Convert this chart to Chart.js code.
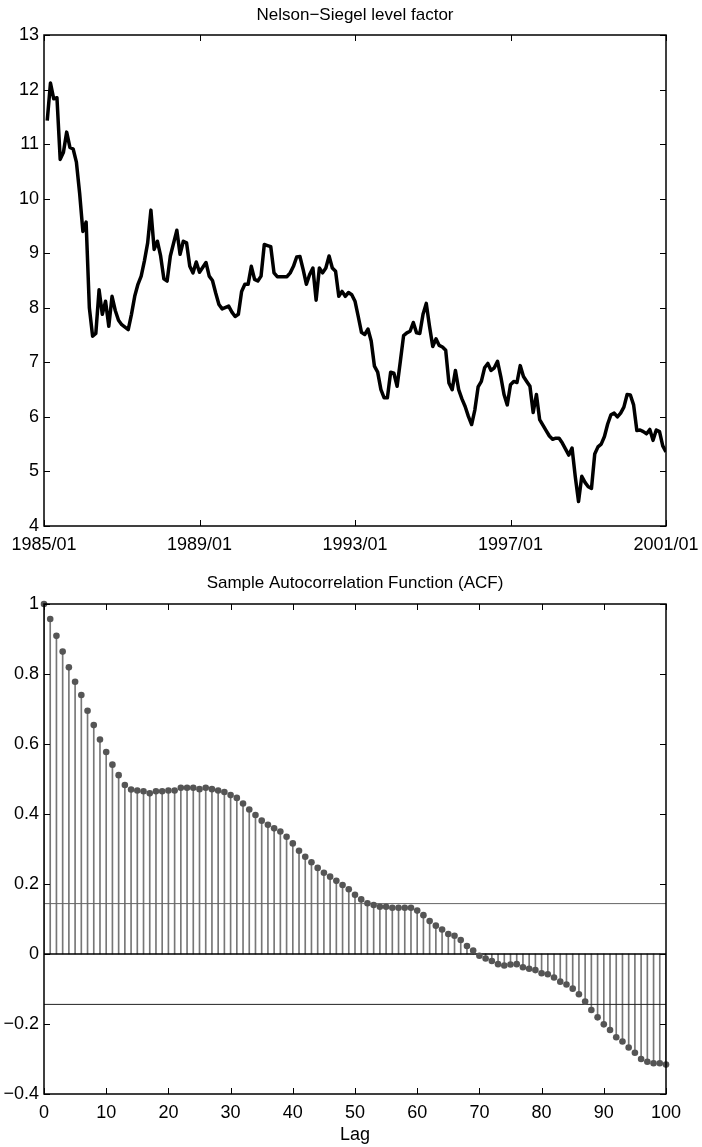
<!DOCTYPE html>
<html>
<head>
<meta charset="utf-8">
<script src="https://cdn.jsdelivr.net/npm/chart.js@4.4.1/dist/chart.umd.min.js"></script>
<style>
  html, body { margin: 0; padding: 0; background: #fff; }
  #wrap { position: relative; width: 702px; height: 1147px; }
  #lvl { position: absolute; left: 0; top: 0; }
  #acf { position: absolute; left: 0; top: 572px; }
</style>
</head>
<body>
<div id="wrap">
  <canvas id="lvl" width="702" height="572"></canvas>
  <canvas id="acf" width="702" height="575"></canvas>
</div>
<script>
// level factor, months counted from 1985/01
const months = [1,2,3,4,5,6,7,8,9,10,11,12,13,14,15,16,17,18,19,20,21,22,23,24,26,27,28,29,30,31,32,33,34,35,36,37,38,39,41,42,43,44,45,46,47,48,50,51,52,53,54,55,57,58,59,60,61,62,63,64,65,66,67,68,69,70,71,72,73,75,76,77,78,79,80,81,82,83,84,85,86,87,88,89,90,91,92,93,94,95,96,97,98,99,100,101,102,103,104,105,106,107,108,109,110,111,112,113,114,115,116,117,118,119,120,121,122,123,124,125,126,127,128,129,130,131,132,133,134,135,136,137,138,139,140,141,142,143,144,145,146,147,148,149,150,151,152,153,154,155,156,157,158,159,160,161,162,163,164,165,166,167,168,169,170,171,172,173,174,175,176,177,178,179,180,181,182,183,184,185,186,187,188,189,190,191,192];
const level = [11.43,12.12,11.83,11.85,10.72,10.85,11.22,10.94,10.91,10.67,10.10,9.40,9.57,8.00,7.48,7.53,8.33,7.88,8.12,7.66,8.21,7.95,7.77,7.69,7.60,7.88,8.21,8.43,8.58,8.86,9.19,9.79,9.07,9.22,8.95,8.53,8.49,8.95,9.42,8.98,9.22,9.19,8.76,8.64,8.84,8.65,8.83,8.58,8.50,8.27,8.06,7.98,8.03,7.92,7.84,7.88,8.30,8.43,8.43,8.76,8.52,8.49,8.58,9.16,9.14,9.12,8.64,8.57,8.57,8.57,8.64,8.76,8.93,8.94,8.70,8.43,8.61,8.73,8.14,8.73,8.64,8.73,8.95,8.73,8.67,8.21,8.30,8.21,8.28,8.24,8.12,7.84,7.55,7.51,7.61,7.39,6.93,6.82,6.50,6.35,6.35,6.82,6.80,6.56,7.02,7.49,7.54,7.57,7.73,7.54,7.53,7.88,8.08,7.66,7.29,7.43,7.31,7.28,7.22,6.62,6.50,6.85,6.50,6.33,6.19,6.01,5.86,6.13,6.55,6.65,6.90,6.98,6.85,6.90,7.02,6.74,6.41,6.22,6.59,6.65,6.63,6.94,6.74,6.65,6.56,6.08,6.41,5.95,5.85,5.75,5.65,5.59,5.61,5.61,5.52,5.41,5.30,5.43,4.90,4.45,4.91,4.80,4.72,4.69,5.32,5.45,5.50,5.64,5.87,6.04,6.07,6.00,6.07,6.18,6.41,6.40,6.22,5.75,5.76,5.73,5.69,5.77,5.57,5.76,5.73,5.47,5.36];
const dateTicks = ['1985/01', '1989/01', '1993/01', '1997/01', '2001/01'];

// sample ACF, lags 0..100
const acf = [1.000,0.957,0.909,0.864,0.819,0.778,0.740,0.695,0.654,0.613,
  0.577,0.541,0.511,0.483,0.470,0.467,0.465,0.459,0.465,0.465,
  0.467,0.467,0.475,0.475,0.475,0.471,0.475,0.471,0.467,0.463,
  0.454,0.446,0.430,0.413,0.397,0.381,0.369,0.359,0.350,0.335,
  0.316,0.295,0.278,0.262,0.246,0.232,0.221,0.209,0.197,0.185,
  0.169,0.156,0.145,0.140,0.135,0.135,0.132,0.132,0.132,0.132,
  0.124,0.111,0.094,0.081,0.070,0.057,0.052,0.040,0.023,0.010,
  -0.005,-0.013,-0.020,-0.029,-0.033,-0.030,-0.029,-0.038,-0.042,-0.046,
  -0.055,-0.058,-0.067,-0.079,-0.087,-0.099,-0.115,-0.136,-0.160,-0.181,
  -0.201,-0.217,-0.238,-0.250,-0.267,-0.282,-0.300,-0.308,-0.312,-0.312,
  -0.316];
const bound = 0.144;

Chart.defaults.font.family = "'Liberation Sans', Arial, sans-serif";
Chart.defaults.font.size = 18;
Chart.defaults.color = '#000';

// matlab style box with inward ticks
const boxTicks = {
  id: 'boxTicks',
  afterDraw(chart) {
    const { ctx, chartArea: a, scales: { x, y } } = chart;
    const len = 6;
    ctx.save();
    ctx.strokeStyle = '#000';
    ctx.lineWidth = 1;
    ctx.beginPath();
    x.ticks.forEach(t => {
      const px = Math.round(x.getPixelForValue(t.value)) + 0.5;
      ctx.moveTo(px, a.bottom); ctx.lineTo(px, a.bottom - len);
      ctx.moveTo(px, a.top); ctx.lineTo(px, a.top + len);
    });
    y.ticks.forEach(t => {
      const py = Math.round(y.getPixelForValue(t.value)) + 0.5;
      ctx.moveTo(a.left, py); ctx.lineTo(a.left + len, py);
      ctx.moveTo(a.right, py); ctx.lineTo(a.right - len, py);
    });
    ctx.stroke();
    ctx.lineWidth = 1.5;
    ctx.strokeRect(a.left, a.top, a.right - a.left, a.bottom - a.top);
    ctx.restore();
  }
};

const fixWidth = w => scale => { scale.width = w; };
const fixHeight = h => scale => {
  scale.height = h;
  scale.paddingLeft = 0;
  scale.paddingRight = 0;
};

new Chart(document.getElementById('lvl'), {
  type: 'line',
  data: {
    datasets: [{
      data: months.map((m, i) => ({ x: m, y: level[i] })),
      borderColor: '#000',
      borderWidth: 3.5,
      borderJoinStyle: 'round',
      pointRadius: 0,
      tension: 0
    }]
  },
  options: {
    responsive: false,
    animation: false,
    layout: { padding: { left: 0, right: 36, top: 0, bottom: 0 } },
    plugins: {
      legend: { display: false },
      tooltip: { enabled: false },
      title: {
        display: true,
        text: 'Nelson\u2212Siegel level factor',
        fullSize: false,
        font: { size: 17, weight: 'normal' },
        padding: { top: 5, bottom: 9.6 }
      }
    },
    scales: {
      x: {
        type: 'linear', min: 0, max: 192,
        grid: { display: false, drawTicks: false },
        border: { display: false },
        afterFit: fixHeight(46),
        afterBuildTicks: s => { s.ticks = [0, 48, 96, 144, 192].map(v => ({ value: v })); },
        ticks: { padding: 8, maxRotation: 0, callback: (v, i) => dateTicks[i] }
      },
      y: {
        min: 4, max: 13,
        grid: { display: false, drawTicks: false },
        border: { display: false },
        afterFit: fixWidth(44),
        ticks: { stepSize: 1, padding: 5 }
      }
    }
  },
  plugins: [boxTicks]
});

new Chart(document.getElementById('acf'), {
  type: 'bar',
  data: {
    datasets: [
      {
        type: 'scatter',
        data: acf.map((v, k) => ({ x: k, y: v })),
        pointRadius: 3.3,
        pointBackgroundColor: '#555',
        pointBorderWidth: 0,
        clip: false,
        order: 0
      },
      {
        type: 'line',
        data: [{ x: 0, y: bound }, { x: 100, y: bound }],
        borderColor: '#666', borderWidth: 1, pointRadius: 0, order: 1
      },
      {
        type: 'line',
        data: [{ x: 0, y: -bound }, { x: 100, y: -bound }],
        borderColor: '#222', borderWidth: 1, pointRadius: 0, order: 1
      },
      {
        type: 'line',
        data: [{ x: 0, y: 0 }, { x: 100, y: 0 }],
        borderColor: '#000', borderWidth: 1.5, pointRadius: 0, order: 1
      },
      {
        type: 'bar',
        data: acf.map((v, k) => ({ x: k, y: v })),
        backgroundColor: '#777',
        barThickness: 1,
        order: 2
      }
    ]
  },
  options: {
    responsive: false,
    animation: false,
    layout: { padding: { left: 0, right: 36, top: 0, bottom: 0 } },
    plugins: {
      legend: { display: false },
      tooltip: { enabled: false },
      title: {
        display: true,
        text: 'Sample Autocorrelation Function (ACF)',
        fullSize: false,
        font: { size: 17, weight: 'normal' },
        padding: { top: 1, bottom: 10.6 }
      }
    },
    scales: {
      x: {
        type: 'linear', min: 0, max: 100, offset: false,
        grid: { display: false, drawTicks: false, offset: false },
        border: { display: false },
        afterFit: fixHeight(53),
        ticks: { stepSize: 10, padding: 8, maxRotation: 0 },
        title: { display: true, text: 'Lag', font: { size: 18 }, padding: { top: 0, bottom: 1 } }
      },
      y: {
        min: -0.4, max: 1,
        grid: { display: false, drawTicks: false },
        border: { display: false },
        afterFit: fixWidth(44),
        ticks: {
          stepSize: 0.2, padding: 5,
          callback: v => String(Math.round(v * 10) / 10).replace('-', '\u2212')
        }
      }
    }
  },
  plugins: [boxTicks]
});
</script>
</body>
</html>
